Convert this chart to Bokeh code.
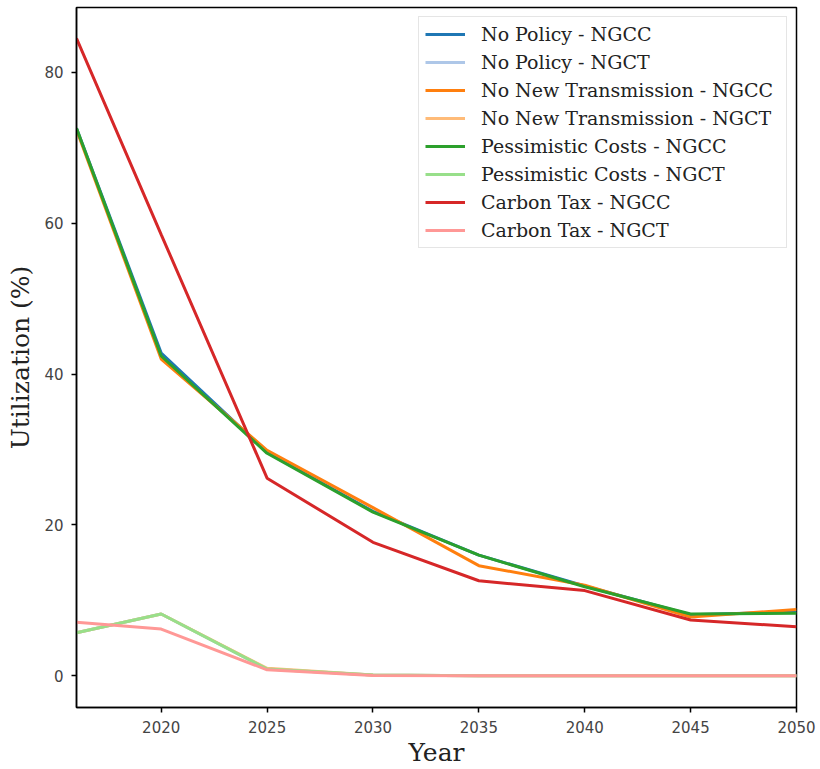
from bokeh.plotting import figure
from bokeh.models import Range1d, FixedTicker
from bokeh.embed import file_html
from bokeh.resources import INLINE

years = [2016, 2020, 2025, 2030, 2035, 2040, 2045, 2050]

no_policy_ngcc = [72.6, 42.8, 29.6, 21.8, 16.0, 11.9, 8.1, 8.5]
no_policy_ngct = [5.7, 8.2, 0.9, 0.1, 0.0, 0.0, 0.0, 0.0]
no_new_trans_ngcc = [72.4, 42.0, 29.9, 22.3, 14.6, 12.0, 7.8, 8.8]
no_new_trans_ngct = [5.7, 8.2, 1.0, 0.1, 0.0, 0.0, 0.0, 0.0]
pessimistic_ngcc = [72.6, 42.4, 29.5, 21.7, 16.0, 11.8, 8.2, 8.3]
pessimistic_ngct = [5.7, 8.2, 0.9, 0.1, 0.0, 0.0, 0.0, 0.0]
carbon_tax_ngcc = [84.5, 58.5, 26.2, 17.7, 12.6, 11.3, 7.4, 6.5]
carbon_tax_ngct = [7.1, 6.2, 0.8, 0.05, 0.0, 0.0, 0.0, 0.0]

series_names = [
    "No Policy - NGCC", "No Policy - NGCT",
    "No New Transmission - NGCC", "No New Transmission - NGCT",
    "Pessimistic Costs - NGCC", "Pessimistic Costs - NGCT",
    "Carbon Tax - NGCC", "Carbon Tax - NGCT",
]
series_values = [
    no_policy_ngcc, no_policy_ngct,
    no_new_trans_ngcc, no_new_trans_ngct,
    pessimistic_ngcc, pessimistic_ngct,
    carbon_tax_ngcc, carbon_tax_ngct,
]
colors = ["#1f77b4", "#aec7e8", "#ff7f0e", "#ffbb78",
          "#2ca02c", "#98df8a", "#d62728", "#ff9896"]

x_ticks = [2020, 2025, 2030, 2035, 2040, 2045, 2050]
y_ticks = [0, 20, 40, 60, 80]

p = figure(width=820, height=769, output_backend="svg", toolbar_location=None,
           x_range=Range1d(2016, 2050), y_range=Range1d(-4.2, 88.6),
           min_border_left=76, min_border_right=24, min_border_top=7,
           min_border_bottom=62)

for name, vals, col in zip(series_names, series_values, colors):
    p.line(years, vals, line_color=col, line_width=3, legend_label=name)

p.xgrid.visible = False
p.ygrid.visible = False
p.outline_line_color = "black"
p.outline_line_width = 1.5
p.outline_line_alpha = 1.0
p.background_fill_color = "white"
p.border_fill_color = "white"

p.xaxis.ticker = FixedTicker(ticks=x_ticks)
p.yaxis.ticker = FixedTicker(ticks=y_ticks)

for ax in (p.xaxis, p.yaxis):
    ax.axis_line_color = "black"
    ax.axis_line_width = 1.5
    ax.major_tick_out = 5
    ax.major_tick_in = 0
    ax.minor_tick_line_color = None
    ax.major_tick_line_color = "black"
    ax.major_tick_line_width = 1.5
    ax.major_label_text_font = "DejaVu Sans"
    ax.major_label_text_font_size = "15px"
    ax.major_label_text_color = "#444444"
    ax.axis_label_text_font = "DejaVu Serif"
    ax.axis_label_text_font_size = "25px"
    ax.axis_label_text_font_style = "normal"
    ax.axis_label_text_color = "#222222"

p.xaxis.axis_label = "Year"
p.yaxis.axis_label = "Utilization (%)"
p.xaxis.major_label_standoff = 8
p.yaxis.major_label_standoff = 8
p.xaxis.axis_label_standoff = 2
p.yaxis.axis_label_standoff = 6

lg = p.legend[0]
lg.location = "top_right"
lg.margin = 9
lg.padding = 6
lg.spacing = 6
lg.label_height = 20
lg.glyph_height = 20
lg.glyph_width = 40
lg.label_width = 299
lg.label_standoff = 16
lg.label_text_font = "DejaVu Serif"
lg.label_text_font_size = "19px"
lg.label_text_color = "#222222"
lg.border_line_color = "#cccccc"
lg.border_line_width = 1
lg.background_fill_alpha = 1.0

open("out.html", "w").write(file_html(p, INLINE))
